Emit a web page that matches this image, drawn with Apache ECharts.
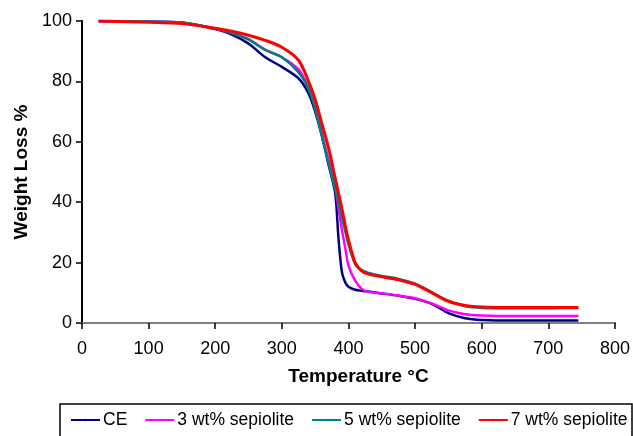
<!DOCTYPE html>
<html>
<head>
<meta charset="utf-8">
<script src="https://cdn.jsdelivr.net/npm/echarts@6/dist/echarts.min.js"></script>
<style>
  html, body { margin: 0; padding: 0; background: #fff; }
  #tgaChart { width: 633px; height: 436px; }
</style>
</head>
<body>
<div id="tgaChart"></div>
<script>
// 温度 (°C)
const temps = [25, 100, 150, 200, 225, 250, 275, 300, 325, 340, 350, 360, 370, 380, 385, 390, 395, 400, 410, 420, 430, 450, 475, 500, 525, 550, 575, 600, 650, 700, 745]
// 失重 %
const ceVals   = [100, 99.8, 99.5, 97.3, 95.5, 92.5, 88, 84.8, 81, 76, 70, 62, 52.5, 43, 28, 17, 13.5, 12, 11, 10.7, 10.4, 9.8, 9.0, 8.0, 6.3, 3.3, 1.6, 1.0, 0.8, 0.8, 0.8]
const sep3Vals = [100, 99.8, 99.4, 97.5, 96, 94, 90.5, 88, 84, 78, 73, 63, 54, 45, 38, 31, 25, 19, 14, 11.3, 10.3, 9.8, 9.1, 8.2, 6.5, 4.2, 2.9, 2.5, 2.3, 2.3, 2.3]
const sep5Vals = [100, 99.8, 99.5, 97.5, 96, 93.8, 90.4, 88, 83, 77.5, 71, 62, 53, 44.5, 40, 35, 30.5, 26, 19.5, 17.5, 16.6, 15.6, 14.6, 13, 10.2, 7.3, 5.5, 5.0, 4.9, 4.9, 5.0]
const sep7Vals = [100, 99.6, 99.2, 97.6, 96.6, 95.3, 93.6, 91.3, 87, 80, 74, 66, 58, 48, 43, 38, 32.5, 27.5, 20, 17.2, 16.2, 15.3, 14.3, 12.8, 10, 7.2, 5.8, 5.3, 5.1, 5.1, 5.1]
const seriesNames = ["CE", "3 wt% sepiolite", "5 wt% sepiolite", "7 wt% sepiolite"]
const xTicks = [0, 100, 200, 300, 400, 500, 600, 700, 800]
const yTicks = [0, 20, 40, 60, 80, 100]

const colors = ["#000080", "#ff00ff", "#008080", "#ff0000"]
const font = "'Liberation Sans', Arial, Helvetica, sans-serif"

function pairs(vals) {
  return temps.map((t, i) => [t, vals[i]])
}

const myChart = echarts.init(document.getElementById("tgaChart"))
const allVals = [ceVals, sep3Vals, sep5Vals, sep7Vals]

myChart.setOption({
  animation: false,
  color: colors,
  textStyle: { fontFamily: font },
  grid: { left: 82, right: 16, top: 21, bottom: 113 },
  legend: {
    data: seriesNames,
    left: 70,
    top: 411,
    padding: 0,
    itemWidth: 29,
    itemHeight: 3,
    itemGap: 17,
    textStyle: { fontFamily: font, fontSize: 17.5, color: "#000", padding: [0, 0, 0, -2] },
  },
  graphic: [
    {
      type: "rect",
      shape: { x: 60, y: 404, width: 572, height: 50 },
      style: { fill: "none", stroke: "#000", lineWidth: 1.5 },
      silent: true,
    },
  ],
  xAxis: [
    {
      type: "value",
      min: xTicks[0],
      max: xTicks[xTicks.length - 1],
      interval: 100,
      name: "Temperature °C",
      nameLocation: "middle",
      nameGap: 44,
      nameTextStyle: { fontFamily: font, fontSize: 19, fontWeight: "bold", color: "#000", padding: [0, 0, 0, 20] },
      axisLine: { lineStyle: { color: "#000", width: 2 } },
      axisTick: { show: true, inside: false, length: 6, lineStyle: { color: "#000", width: 1.5 } },
      axisLabel: { color: "#000", fontSize: 18, margin: 17, fontFamily: font },
      splitLine: { show: false },
    },
    {
      type: "value",
      position: "top",
      min: xTicks[0],
      max: xTicks[xTicks.length - 1],
      axisLine: { show: true, lineStyle: { color: "#808080", width: 2 } },
      axisTick: { show: false },
      axisLabel: { show: false },
      splitLine: { show: false },
    },
  ],
  yAxis: [
    {
      type: "value",
      min: yTicks[0],
      max: yTicks[yTicks.length - 1],
      interval: 20,
      name: "Weight Loss %",
      nameLocation: "middle",
      nameGap: 50,
      nameRotate: 90,
      nameTextStyle: { fontFamily: font, fontSize: 19, fontWeight: "bold", color: "#000" },
      axisLine: { show: true, lineStyle: { color: "#000", width: 2 } },
      axisTick: { show: true, inside: false, length: 6, lineStyle: { color: "#000", width: 1.5 } },
      axisLabel: { color: "#000", fontSize: 18, margin: 10, fontFamily: font },
      splitLine: { show: false },
    },
    {
      type: "value",
      position: "right",
      min: yTicks[0],
      max: yTicks[yTicks.length - 1],
      axisLine: { show: true, lineStyle: { color: "#000", width: 1.5 } },
      axisTick: { show: false },
      axisLabel: { show: false },
      splitLine: { show: false },
    },
  ],
  series: seriesNames.map((name, i) => ({
    name: name,
    type: "line",
    xAxisIndex: 0,
    yAxisIndex: 0,
    smooth: 0.3,
    symbol: "none",
    data: pairs(allVals[i]),
    lineStyle: { width: i === 3 ? 3 : 2.5, color: colors[i] },
  })),
})
</script>
</body>
</html>
